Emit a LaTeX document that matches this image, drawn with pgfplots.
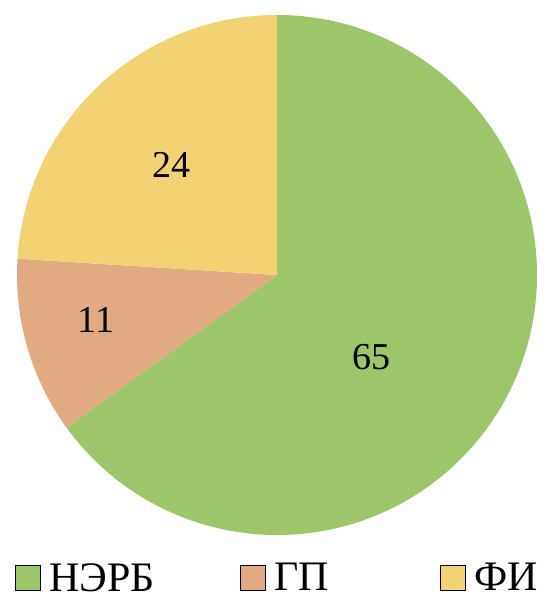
\documentclass[border=0pt]{standalone}
\usepackage{fontspec}
\setmainfont{Liberation Serif}
\usepackage{pgfplots}
\pgfplotsset{compat=1.18}
\definecolor{cgreen}{HTML}{9DC66B}
\definecolor{corange}{HTML}{E2AA80}
\definecolor{cyellow}{HTML}{F2D272}

% pie radius 260pt = 1 axis unit
\newcommand{\R}{260pt}

\begin{document}
\begin{tikzpicture}
\begin{axis}[
  hide axis,
  scale only axis,
  width=558pt, height=610pt,
  xmin=-1.0654, xmax=1.0808,
  ymin=-1.2885, ymax=1.0577,
  clip=false,
  legend columns=3,
  legend style={draw=none, fill=none, inner sep=0pt,
    at={(axis cs:-1.0077,-1.165)}, anchor=west,
    font=\fontsize{42}{48}\selectfont,
    nodes={inner sep=1pt},
    /tikz/column 1/.style={column sep=8pt},
    /tikz/column 2/.style={column sep=84pt},
    /tikz/column 3/.style={column sep=8pt},
    /tikz/column 4/.style={column sep=110pt},
    /tikz/column 5/.style={column sep=8pt}},
  legend image code/.code={\fill[#1] (0pt,-12.5pt) rectangle (25pt,12.5pt);},
]
\path[use as bounding box] (rel axis cs:0,0) rectangle (rel axis cs:1,1);
% values: НЭРБ 65, ГП 11, ФИ 24 (clockwise from the top)
\fill[cgreen] (axis cs:0,0) -- (axis cs:0,1) arc[start angle=90, end angle={90-3.6*65}, radius=\R] -- cycle;
\fill[corange] (axis cs:0,0) -- ({cos(90-3.6*65)},{sin(90-3.6*65)}) arc[start angle={90-3.6*65}, end angle={90-3.6*(65+11)}, radius=\R] -- cycle;
\fill[cyellow] (axis cs:0,0) -- ({cos(90-3.6*76)},{sin(90-3.6*76)}) arc[start angle={90-3.6*76}, end angle={90-3.6*100}, radius=\R] -- cycle;
\node[font=\fontsize{38}{44}\selectfont] at (axis cs:0.365,-0.315) {65};
\node[font=\fontsize{38}{44}\selectfont] at (axis cs:-0.696,-0.173) {11};
\node[font=\fontsize{38}{44}\selectfont] at (axis cs:-0.404,0.423) {24};
\addlegendimage{fill=cgreen}
\addlegendentry{НЭРБ}
\addlegendimage{fill=corange}
\addlegendentry{ГП}
\addlegendimage{fill=cyellow}
\addlegendentry{ФИ}
\end{axis}
\end{tikzpicture}
\end{document}
